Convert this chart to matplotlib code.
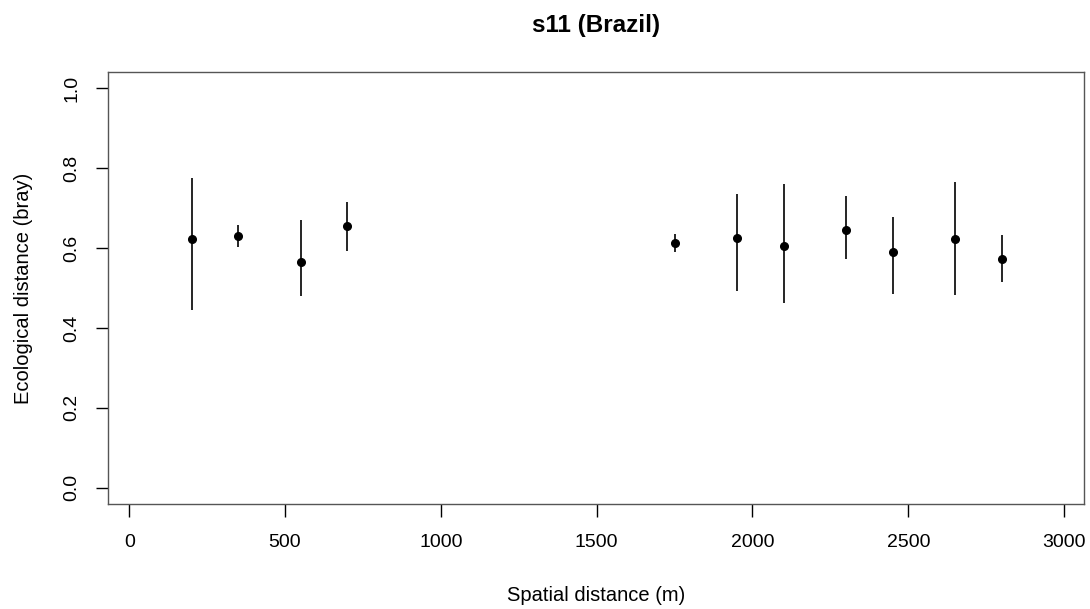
import matplotlib
matplotlib.use("Agg")
import matplotlib.pyplot as plt

# spatial distance classes (m) and ecological distance summaries
dist = [200, 350, 550, 700, 1750, 1950, 2100, 2300, 2450, 2650, 2800]
mean_eco = [0.622, 0.631, 0.565, 0.654, 0.613, 0.626, 0.605, 0.645, 0.591, 0.622, 0.572]
upper = [0.776, 0.658, 0.670, 0.715, 0.635, 0.736, 0.760, 0.731, 0.677, 0.765, 0.632]
lower = [0.444, 0.603, 0.479, 0.593, 0.590, 0.493, 0.462, 0.573, 0.486, 0.482, 0.514]

xticks = [0, 500, 1000, 1500, 2000, 2500, 3000]
yticks = [0.0, 0.2, 0.4, 0.6, 0.8, 1.0]

plt.rcParams['font.family'] = ['Liberation Sans', 'DejaVu Sans']

fig = plt.figure(figsize=(10.9, 6.09), dpi=100)
ax = fig.add_axes([0.0991, 0.1729, 0.8954, 0.7084])

ax.vlines(dist, lower, upper, colors="black", linewidth=1.2)
ax.plot(dist, mean_eco, "o", color="black", markersize=5.5)

ax.set_xlim(-68, 3064)
ax.set_ylim(-0.04, 1.04)
ax.set_xticks(xticks)
ax.set_yticks(yticks)
ax.set_xticklabels([str(t) for t in xticks])
ax.set_yticklabels(["%.1f" % t for t in yticks], rotation=90, va="center")
ax.tick_params(axis="both", length=9, width=1, labelsize=14, pad=11)
ax.tick_params(axis="x", pad=13)

for s in ax.spines.values():
    s.set_color("#555555")
    s.set_linewidth(1)

ax.set_xlabel("Spatial distance (m)", fontsize=14.5, labelpad=25)
ax.set_ylabel("Ecological distance (bray)", fontsize=14.5, labelpad=22)
ax.set_title("s11 (Brazil)", fontsize=17.5, fontweight="bold", pad=29)

fig.savefig("out.png", dpi=100)
